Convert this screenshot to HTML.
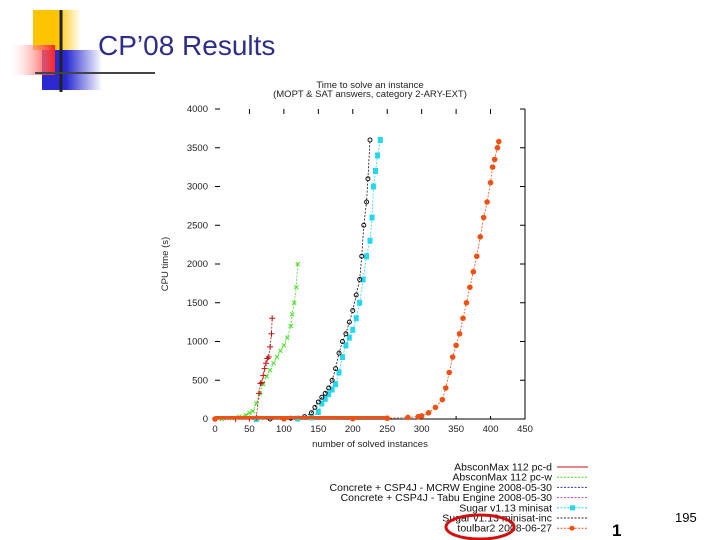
<!DOCTYPE html>
<html><head><meta charset="utf-8"><style>
body{margin:0;width:720px;height:540px;background:#fff;overflow:hidden;position:relative;font-family:"Liberation Sans",sans-serif}
</style></head><body>
<svg width="720" height="540" style="position:absolute;left:0;top:0">
<defs>
<linearGradient id="rg" x1="1" x2="0"><stop offset="0" stop-color="#f22"/><stop offset="1" stop-color="#fff" stop-opacity="0.2"/></linearGradient>
<linearGradient id="bg" x1="0" x2="1"><stop offset="0.4" stop-color="#2a2ad0"/><stop offset="1" stop-color="#fff"/></linearGradient>
<linearGradient id="yg" x1="0" x2="1"><stop offset="0.5" stop-color="#ffc400"/><stop offset="1" stop-color="#fff"/></linearGradient>
</defs>
<g>
<rect x="33" y="10" width="48" height="40" fill="url(#yg)"/>
<rect x="42" y="50" width="60" height="40" fill="url(#bg)"/>
<rect x="10" y="45" width="45" height="30" fill="url(#rg)"/>
<line x1="61" y1="10" x2="61" y2="92" stroke="#222" stroke-width="3"/>
<line x1="35" y1="73" x2="155" y2="73" stroke="#444" stroke-width="2"/>
</g>
<text x="98" y="55" font-size="28" fill="#2e2e8a" font-family="Liberation Sans,sans-serif">CP’08 Results</text>
<text x="370" y="88" font-size="9.5" text-anchor="middle" fill="#222">Time to solve an instance</text>
<text x="370" y="97" font-size="9.5" text-anchor="middle" fill="#222">(MOPT &amp; SAT answers, category 2-ARY-EXT)</text>
<g id="chart"></g>
<g id="legend" font-size="10.5" fill="#111"></g>
<ellipse cx="480" cy="527" rx="34" ry="12" fill="none" stroke="#d01010" stroke-width="3"/>
<text x="612" y="536" font-size="17" font-weight="bold">1</text>
<text x="675" y="522" font-size="13">195</text>
</svg>
<script>
const xTicks=[0,50,100,150,200,250,300,350,400,450];
const yTicks=[0,500,1000,1500,2000,2500,3000,3500,4000];
const redX=[30,50,60,64,66,68,70,72,74,76,78,80,82,83];
const redY=[0,5,20,330,460,470,560,650,720,780,800,930,1100,1300];
const greenX=[10,25,35,45,50,55,60,65,70,75,80,85,90,95,100,105,110,112,115,118,120];
const greenY=[0,10,30,50,80,100,200,330,450,550,630,720,800,880,950,1050,1200,1350,1500,1700,2000];
const blackX=[80,110,130,140,145,150,155,160,165,170,175,180,185,190,195,200,205,210,213,216,220,222,225];
const blackY=[0,10,30,80,150,220,280,330,400,500,650,850,1000,1100,1250,1400,1600,1800,2100,2500,2800,3100,3600];
const cyanX=[60,120,140,150,155,160,165,170,175,180,185,190,195,200,205,210,215,220,225,228,230,233,236,240];
const cyanY=[0,5,20,90,200,260,320,380,450,600,800,950,1050,1150,1300,1500,1800,2100,2300,2600,3000,3200,3400,3600];
const orangeX=[0,100,200,250,280,295,300,310,320,330,335,340,345,350,355,360,365,370,375,380,385,390,395,400,403,406,410,412];
const orangeY=[0,2,5,10,20,30,40,80,150,250,400,600,800,950,1100,1300,1500,1700,1900,2100,2350,2600,2800,3050,3250,3350,3500,3580];
const legendLabels=["AbsconMax 112 pc-d","AbsconMax 112 pc-w","Concrete + CSP4J - MCRW Engine 2008-05-30","Concrete + CSP4J - Tabu Engine 2008-05-30","Sugar v1.13 minisat","Sugar v1.13 minisat-inc","toulbar2 2008-06-27"];
const NS="http://www.w3.org/2000/svg";
const X0=215,X1=525,Y0=419,Y1=109;
const sx=v=>X0+(X1-X0)*v/450, sy=v=>Y0-(Y0-Y1)*v/4000;
const g=document.getElementById('chart');
function mk(t,a,p){const e=document.createElementNS(NS,t);for(const k in a)e.setAttribute(k,a[k]);(p||g).appendChild(e);return e;}
let e=mk('polyline',{points:`${X1},${Y1} ${X1},${Y0} ${X0},${Y0}`,fill:'none',stroke:'#000','stroke-width':1});


xTicks.forEach(v=>{
 let t=mk('text',{x:sx(v),y:432,'font-size':9.5,'text-anchor':'middle',fill:'#222'});t.textContent=v;
 
 
 if(v>0&&v<450){mk('line',{x1:sx(v),x2:sx(v),y1:Y1,y2:Y1+5,stroke:'#000'});mk('line',{x1:sx(v),x2:sx(v),y1:Y0,y2:Y0-3,stroke:'#000'});}
});
yTicks.forEach(v=>{
 let t=mk('text',{x:208,y:sy(v)+3,'font-size':9.5,'text-anchor':'end',fill:'#222'});t.textContent=v;
 
 
 mk('line',{x1:X0,x2:X0+5,y1:sy(v),y2:sy(v),stroke:'#000'});
 mk('line',{x1:X1,x2:X1-5,y1:sy(v),y2:sy(v),stroke:'#000'});
});
let xt=mk('text',{x:370,y:447,'font-size':9.5,'text-anchor':'middle',fill:'#222'});xt.textContent='number of solved instances';


let yt=mk('text',{x:0,y:0,'font-size':9.5,'text-anchor':'middle',fill:'#222',transform:'translate(168,264) rotate(-90)'});yt.textContent='CPU time (s)';


function series(xs,ys,col,name,mark){
 const s=mk('g',{});
 
 
 mk('polyline',{points:xs.map((x,i)=>sx(x)+','+sy(ys[i])).join(' '),fill:'none',stroke:col,'stroke-width':0.8,'stroke-dasharray':'2,1.5'},s);
 mk('line',{x1:sx(xs[0]),x2:sx(xs[0]+(xs[xs.length-1]-xs[0])*0.6),y1:Y0-1.5,y2:Y0-1.5,stroke:col,'stroke-width':3},s);
 xs.forEach((x,i)=>{const cx=sx(x),cy=sy(ys[i]);
  if(mark=='sq')mk('rect',{x:cx-2.5,y:cy-3,width:5,height:6,fill:col},s);
  else if(mark=='dot')mk('circle',{cx,cy,r:2.8,fill:col},s);
  else if(mark=='o')mk('circle',{cx,cy,r:2,fill:'none',stroke:col},s);
  else if(mark=='x'){mk('path',{d:`M${cx-2} ${cy-2}L${cx+2} ${cy+2}M${cx-2} ${cy+2}L${cx+2} ${cy-2}`,stroke:col},s);}
  else mk('path',{d:`M${cx-3} ${cy}H${cx+3}M${cx} ${cy-3}V${cy+3}`,stroke:col},s);
 });
}
series(cyanX,cyanY,'#22d8f0','series-sugar-minisat','sq');
series(blackX,blackY,'#111','series-sugar-minisat-inc','o');
series(greenX,greenY,'#44e022','series-absconmax-pc-w','x');
series(redX,redY,'#c01010','series-absconmax-pc-d','+');
series(orangeX,orangeY,'#f05010','series-toulbar2','dot');
const lg=document.getElementById('legend');
const lcol=['#c01010','#44e022','#3030c0','#c040e0','#22d8f0','#222','#f05010'];
legendLabels.forEach((l,i)=>{
 const y=467+i*10.2;
 const t=mk('text',{x:552,y:y+3.5,'text-anchor':'end'},lg);t.textContent=l;
 
 
 mk('line',{x1:557,x2:588,y1:y,y2:y,stroke:lcol[i],'stroke-dasharray':i?'2,1.5':'none'},lg);
 if(i==4)mk('rect',{x:570,y:y-2.5,width:5,height:5,fill:lcol[i]},lg);
 if(i==6)mk('circle',{cx:572,cy:y,r:2.5,fill:lcol[i]},lg);
});
</script>
</body></html>
